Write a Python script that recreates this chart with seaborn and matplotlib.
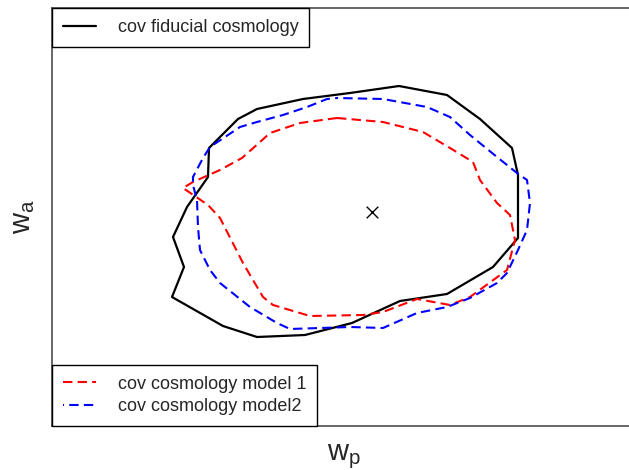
import matplotlib
matplotlib.use("Agg")
import matplotlib.pyplot as plt
import seaborn as sns
import numpy as np

# contours (arbitrary units, no ticks shown)
fid_wp = [399, 447, 480, 512, 518, 518, 493, 447, 400, 352, 305, 257, 223, 172, 184, 173, 187, 208, 209, 238, 257, 303, 350, 399]
fid_wa = [384, 375, 351, 322, 295, 232, 203, 176, 169, 147, 135, 133, 144, 173, 203, 233, 263, 293, 322, 351, 361, 371, 377, 384]

m1_wp = [337, 383, 423, 450, 473, 480, 497, 510, 515, 507, 470, 450, 417, 383, 363, 310, 273, 263, 243, 220, 208, 183, 193, 220, 242, 260, 270, 300, 337]
m1_wa = [352, 348, 338, 322, 308, 290, 267, 255, 230, 200, 173, 165, 171, 158, 155, 154, 165, 173, 207, 252, 265, 282, 288, 300, 312, 328, 337, 347, 352]

m2_wp = [337, 383, 427, 450, 470, 497, 517, 527, 530, 527, 518, 507, 497, 470, 447, 417, 383, 350, 290, 277, 250, 220, 210, 200, 198, 197, 193, 193, 203, 210, 240, 257, 283, 307, 327, 337]
m2_wa = [372, 371, 363, 353, 335, 313, 297, 290, 267, 240, 220, 197, 187, 172, 163, 157, 142, 143, 141, 147, 163, 187, 200, 220, 243, 270, 285, 293, 312, 323, 343, 348, 355, 363, 371, 372]

best_wp = [372]
best_wa = [258]

sns.set_style("white")
plt.rcParams["font.family"] = ["Liberation Sans", "DejaVu Sans"]
plt.rcParams["mathtext.fontset"] = "custom"
plt.rcParams["mathtext.rm"] = "Liberation Sans"

fig = plt.figure(figsize=(6.29, 4.70), dpi=100)
ax = fig.add_axes([52/629, 44/470, 583/629, 418/470])

sns.lineplot(x=fid_wp, y=fid_wa, sort=False, estimator=None, color="black", lw=1.6, ax=ax)
sns.lineplot(x=m1_wp, y=m1_wa, sort=False, estimator=None, color="red", lw=1.5, linestyle=(0, (4.5, 2.5)), ax=ax)
sns.lineplot(x=m2_wp, y=m2_wa, sort=False, estimator=None, color="blue", lw=1.5, linestyle=(4, (4.5, 2.5)), ax=ax)
sns.scatterplot(x=best_wp, y=best_wa, marker="x", color="black", s=70, linewidth=1, ax=ax)

ax.set_xlim(52, 635)
ax.set_ylim(44, 462)
ax.set_xticks([])
ax.set_yticks([])
ax.set_xlabel(r"$\mathregular{w_p}$", fontsize=21, labelpad=12)
ax.set_ylabel(r"$\mathregular{w_a}$", fontsize=21, labelpad=11)
for s in ax.spines.values():
    s.set_color("0.3")
    s.set_linewidth(1.2)

lines = ax.get_lines()
leg_kw = dict(fontsize=13, frameon=True, fancybox=False, framealpha=1, edgecolor="black",
              borderaxespad=0, borderpad=0.6, handlelength=1.85, handletextpad=1.2)
leg1 = ax.legend([lines[0]], ["cov fiducial cosmology"], loc="upper left", **leg_kw)
leg1.get_frame().set_linewidth(1.0)
ax.add_artist(leg1)
leg2 = ax.legend([lines[1], lines[2]], ["cov cosmology model 1", "cov cosmology model2"],
                 loc="lower left", labelspacing=0.3, **leg_kw)
leg2.get_frame().set_linewidth(1.0)

fig.savefig("out.png", dpi=100)
